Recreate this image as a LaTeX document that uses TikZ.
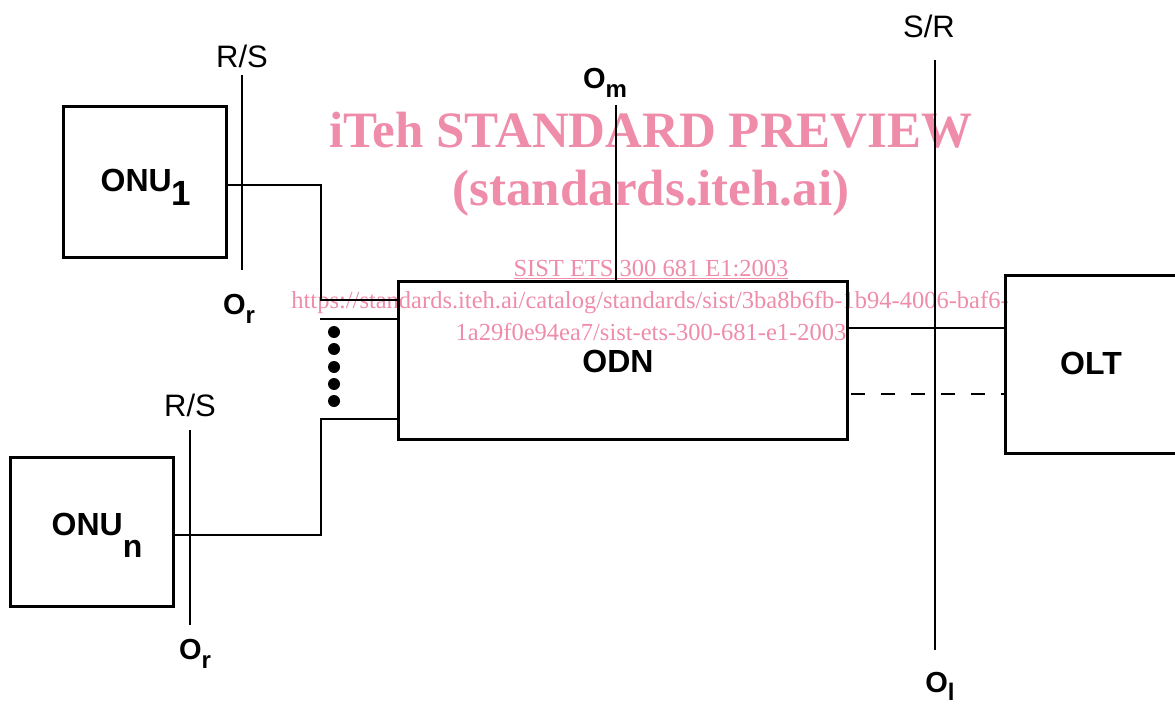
\documentclass[tikz,border=0pt]{standalone}
\usepackage{fontspec}
\setmainfont{Liberation Sans}
\newfontfamily\wmfont{Liberation Serif}
\definecolor{wm}{RGB}{238,140,170}
\begin{document}
\begin{tikzpicture}[x=1pt,y=-1pt,
  box/.style={draw,line width=3pt,inner sep=0pt},
  conn/.style={line width=1.7pt},
  refl/.style={line width=1.3pt},
  lbl/.style={font=\fontsize{31}{31}\selectfont,inner sep=0pt,anchor=base},
  blbl/.style={font=\fontsize{32}{32}\selectfont\bfseries,inner sep=0pt,anchor=base},
  olbl/.style={font=\fontsize{29}{29}\selectfont\bfseries,inner sep=0pt,anchor=base},
  wmbig/.style={text=wm,font=\wmfont\fontsize{51}{51}\selectfont\bfseries,inner sep=0pt,anchor=base},
  wmsmall/.style={text=wm,font=\wmfont\fontsize{24.5}{24.5}\selectfont,inner sep=0pt,anchor=base},
  dot/.style={circle,fill,inner sep=0pt,minimum size=12pt}]
\clip (0,0) rectangle (1175,706);

% watermark
\node[wmbig] (wm1) at (651,148) {iTeh STANDARD PREVIEW};
\node[wmbig] (wm2) at (651,205) {(standards.iteh.ai)};
\node[wmsmall] (wm3) at (651,276) {\underline{SIST ETS 300 681 E1:2003}};
\node[wmsmall] (wm4) at (650,308) {https://standards.iteh.ai/catalog/standards/sist/3ba8b6fb-1b94-4006-baf6-};
\node[wmsmall] (wm5) at (651,340) {1a29f0e94ea7/sist-ets-300-681-e1-2003};

% boxes
\node[box,minimum width=163pt,minimum height=150pt] (onu1) at (144.5,182) {};
\node[box,minimum width=163pt,minimum height=149pt] (onun) at (91.5,531.5) {};
\node[box,minimum width=449pt,minimum height=158pt] (odn) at (622.5,360) {};
\node[box,minimum width=185pt,minimum height=178pt] (olt) at (1097.5,364) {};

% box labels
\node[blbl] (tonu1) at (146,191) {ONU\raisebox{-14pt}{\fontsize{35}{35}\selectfont 1}};
\node[blbl] (tonun) at (97,535) {ONU\raisebox{-22pt}{n}};
\node[blbl] (todn) at (618,372) {ODN};
\node[blbl] (tolt) at (1091,374) {OLT};

% reference points
\node[lbl] (rs1) at (242,68) {R/S};
\node[lbl] (rs2) at (190,416) {R/S};
\node[lbl] (sr) at (929,38) {S/R};
\node[olbl] (or1) at (239,314) {O\raisebox{-9pt}{\fontsize{24}{24}\selectfont r}};
\node[olbl] (or2) at (195,659) {O\raisebox{-9pt}{\fontsize{24}{24}\selectfont r}};
\node[olbl] (om) at (605,89) {O\raisebox{-9pt}{\fontsize{24}{24}\selectfont m}};
\node[olbl] (ol) at (940,692) {O\raisebox{-8pt}{\fontsize{24}{24}\selectfont l}};

\coordinate (rs1t) at (242,75);  \coordinate (rs1b) at (242,270);
\coordinate (rs2t) at (190,430); \coordinate (rs2b) at (190,625);
\coordinate (srt) at (935,60);   \coordinate (srb) at (935,650);
\coordinate (omt) at (616,105);
\draw[refl] (rs1t) -- (rs1b);
\draw[refl] (rs2t) -- (rs2b);
\draw[refl] (srt) -- (srb);
\draw[refl] (omt) -- (omt |- odn.north);

% connectors
\coordinate (b1) at (321,185); \coordinate (b2) at (321,300);
\draw[conn] (onu1.east |- b1) -- (b1) -- (b2) -- (odn.west |- b2);
\coordinate (b3) at (320,319);
\draw[conn] (b3) -- (odn.west |- b3);
\coordinate (c1) at (321,419); \coordinate (c2) at (321,535);
\draw[conn] (odn.west |- c1) -- (c1) -- (c2) -- (onun.east |- c2);
\coordinate (d1) at (0,328); \coordinate (d2) at (0,394);
\draw[conn] (odn.east |- d1) -- (olt.west |- d1);
\draw[conn,dash pattern=on 14pt off 16pt] ([xshift=2pt]odn.east |- d2) -- (olt.west |- d2);

% dots
\foreach \i/\y in {1/332,2/349,3/367,4/384,5/401}
  \node[dot] (dot\i) at (334,\y) {};
\end{tikzpicture}
\end{document}
